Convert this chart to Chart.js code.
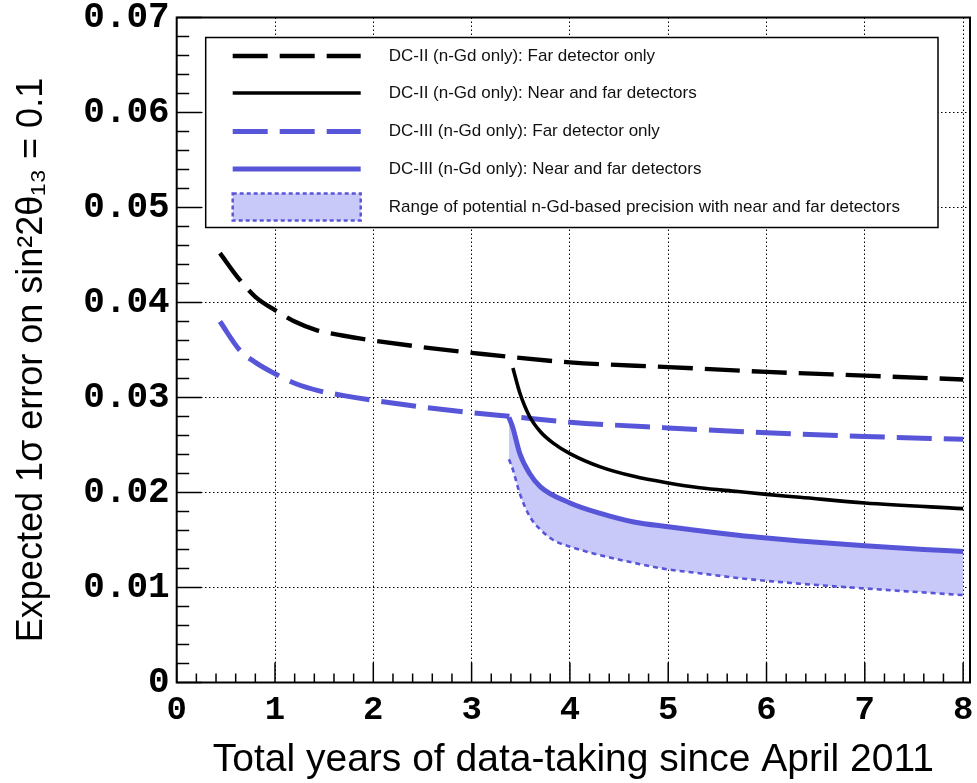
<!DOCTYPE html>
<html><head><meta charset="utf-8">
<script src="https://cdn.jsdelivr.net/npm/chart.js@4/dist/chart.umd.min.js"></script>
<style>html,body{margin:0;padding:0;background:#fff;}canvas{display:block;}</style>
</head><body>
<canvas id="c" width="977" height="783"></canvas>
<script>
// ---- tick labels ----
const xTicks = [0, 1, 2, 3, 4, 5, 6, 7, 8];
const yTicks = [0, 0.01, 0.02, 0.03, 0.04, 0.05, 0.06, 0.07];
const xTitle = 'Total years of data-taking since April 2011';
const yTitle = 'Expected 1\u03c3 error on sin\u00b22\u03b8\u2081\u2083 = 0.1  ';
const legendLabels = [
  'DC-II (n-Gd only): Far detector only',
  'DC-II (n-Gd only): Near and far detectors',
  'DC-III (n-Gd only): Far detector only',
  'DC-III (n-Gd only): Near and far detectors',
  'Range of potential n-Gd-based precision with near and far detectors'
];

// ---- series ----
const dc2FarYears = [0.44, 0.64, 0.8, 1.0, 1.2, 1.42, 1.7, 2.0, 2.5, 3.0, 4.0, 5.0, 6.0, 7.0, 8.0];
const dc2FarErr   = [0.0452, 0.0424, 0.0406, 0.0392, 0.0380, 0.0371, 0.0365, 0.0360, 0.0353, 0.0347, 0.0337, 0.0332, 0.0327, 0.0323, 0.0319];

const dc2BothYears = [3.42, 3.49, 3.59, 3.70, 3.83, 4.0, 4.31, 4.65, 5.0, 5.32, 5.71, 6.0, 6.34, 7.0, 8.0];
const dc2BothErr   = [0.0331, 0.0305, 0.0280, 0.0264, 0.0252, 0.0241, 0.0227, 0.0217, 0.0210, 0.0205, 0.0201, 0.0198, 0.0195, 0.0189, 0.0183];

const dc3FarYears = [0.44, 0.64, 0.8, 1.0, 1.2, 1.45, 1.7, 2.0, 2.5, 3.0, 3.4, 4.0, 5.0, 6.0, 7.0, 8.0];
const dc3FarErr   = [0.0380, 0.0350, 0.0337, 0.0325, 0.0315, 0.0307, 0.0302, 0.0297, 0.0290, 0.0284, 0.0280, 0.0274, 0.0268, 0.0263, 0.0259, 0.0256];

const dc3BothYears = [3.38, 3.42, 3.49, 3.59, 3.70, 4.0, 4.31, 4.65, 5.0, 5.71, 6.0, 6.34, 7.0, 7.6, 8.0];
const dc3BothErr   = [0.0279, 0.0268, 0.0241, 0.0220, 0.0206, 0.0189, 0.0178, 0.0169, 0.0164, 0.0155, 0.0152, 0.0149, 0.0144, 0.0140, 0.0138];

const bandLowYears = [3.38, 3.42, 3.49, 3.59, 3.70, 3.83, 4.0, 4.31, 4.65, 5.0, 5.32, 5.71, 6.0, 6.34, 7.0, 8.0];
const bandLowErr   = [0.0235, 0.0224, 0.0199, 0.0175, 0.0161, 0.0150, 0.0143, 0.0134, 0.0126, 0.0119, 0.0115, 0.0110, 0.0107, 0.0104, 0.0099, 0.0092];

const pts = (xs, ys) => xs.map((x, i) => ({x: x, y: ys[i]}));

const BLACK = '#000000';
const BLUE = '#5856d8';
const BAND = '#c9c9f9';

const base = {pointRadius: 0, pointHoverRadius: 0, cubicInterpolationMode: 'monotone', borderCapStyle: 'butt', fill: false};

const datasets = [
  Object.assign({}, base, {label: legendLabels[1], data: pts(dc2BothYears, dc2BothErr), borderColor: BLACK, borderWidth: 3.6}),
  Object.assign({}, base, {label: legendLabels[0], data: pts(dc2FarYears, dc2FarErr), borderColor: BLACK, borderWidth: 4.4, borderDash: [35, 12]}),
  Object.assign({}, base, {label: legendLabels[2], data: pts(dc3FarYears, dc3FarErr), borderColor: BLUE, borderWidth: 5, borderDash: [35, 12]}),
  Object.assign({}, base, {label: 'band-low', data: pts(bandLowYears, bandLowErr), borderColor: BLUE, borderWidth: 2.6, borderDash: [5, 4]}),
  Object.assign({}, base, {label: legendLabels[3], data: pts(dc3BothYears, dc3BothErr), borderColor: BLUE, borderWidth: 5, backgroundColor: BAND, fill: '-1'})
];

const legendPlugin = {
  id: 'boxLegend',
  afterDatasetsDraw(chart) {
    const ctx = chart.ctx, ca = chart.chartArea;
    const L = ca.left + 29, T = ca.top + 20, R = ca.right - 32, B = T + 190;
    ctx.save();
    ctx.fillStyle = '#fff';
    ctx.fillRect(L, T, R - L, B - T);
    ctx.strokeStyle = '#000';
    ctx.lineWidth = 1.5;
    ctx.strokeRect(L, T, R - L, B - T);
    const rows = [18.5, 55.5, 94, 131.5, 169.5];
    const order = [datasets[1], datasets[0], datasets[2], datasets[4]];
    const x1 = L + 27, x2 = L + 155, tx = L + 183;
    ctx.font = '17px "Liberation Sans", Arial, sans-serif';
    ctx.textBaseline = 'middle';
    ctx.textAlign = 'left';
    for (let i = 0; i < 5; i++) {
      const y = T + rows[i];
      if (i < 4) {
        const d = order[i];
        ctx.save();
        ctx.strokeStyle = d.borderColor;
        ctx.lineWidth = d.borderWidth;
        ctx.setLineDash(d.borderDash || []);
        ctx.beginPath(); ctx.moveTo(x1, y); ctx.lineTo(x2, y); ctx.stroke();
        ctx.restore();
      } else {
        ctx.save();
        ctx.fillStyle = BAND;
        ctx.fillRect(x1, y - 13.5, x2 - x1, 27);
        ctx.strokeStyle = BLUE;
        ctx.lineWidth = 2.5;
        ctx.setLineDash([4, 3]);
        ctx.strokeRect(x1, y - 13.5, x2 - x1, 27);
        ctx.restore();
      }
      ctx.fillStyle = '#111';
      ctx.fillText(legendLabels[i], tx, y);
    }
    ctx.restore();
  }
};

const framePlugin = {
  id: 'frameTicks',
  afterDraw(chart) {
    const ctx = chart.ctx, ca = chart.chartArea;
    const xs = chart.scales.x, ys = chart.scales.y;
    ctx.save();
    ctx.strokeStyle = '#000';
    ctx.lineWidth = 1.5;
    for (let i = 0; i <= 35; i++) {
      const py = ys.getPixelForValue(i * 0.002);
      const len = (i % 5 === 0) ? 25 : 12.5;
      ctx.beginPath(); ctx.moveTo(ca.left, py); ctx.lineTo(ca.left + len, py); ctx.stroke();
    }
    for (let i = 0; i <= 40; i++) {
      const px = xs.getPixelForValue(i * 0.2);
      const len = (i % 5 === 0) ? 20 : 9;
      ctx.beginPath(); ctx.moveTo(px, ca.bottom); ctx.lineTo(px, ca.bottom - len); ctx.stroke();
    }
    ctx.lineWidth = 2;
    ctx.strokeRect(ca.left, ca.top, ca.right - ca.left, ca.bottom - ca.top);
    ctx.restore();
  }
};

Chart.defaults.font.family = '"Liberation Sans", Arial, sans-serif';
Chart.defaults.color = '#000';

new Chart(document.getElementById('c'), {
  type: 'line',
  data: {datasets: datasets},
  options: {
    responsive: false,
    animation: false,
    devicePixelRatio: 1,
    layout: {padding: {top: 17.5, right: 7, bottom: 0, left: 0}},
    plugins: {legend: {display: false}, tooltip: {enabled: false}},
    scales: {
      x: {
        type: 'linear', min: 0, max: 8.07,
        afterBuildTicks: s => { s.ticks = xTicks.map(v => ({value: v})); },
        afterFit: s => { s.height = 100.5; },
        ticks: {font: {family: '"Liberation Mono", monospace', weight: 'bold', size: 34, lineHeight: 1.62}, color: '#000', padding: 0, autoSkip: false, maxRotation: 0, callback: v => String(v)},
        grid: {color: '#000', lineWidth: 1, drawTicks: false},
        border: {display: false, dash: [1.5, 2.5]},
        title: {display: true, text: xTitle, color: '#000', font: {family: '"Liberation Sans", Arial, sans-serif', size: 39, lineHeight: 1}, padding: {top: 0, bottom: 3}}
      },
      y: {
        type: 'linear', min: 0, max: 0.07,
        afterBuildTicks: s => { s.ticks = yTicks.map(v => ({value: v})); },
        afterFit: s => { s.width = 176.7; },
        ticks: {font: {family: '"Liberation Mono", monospace', weight: 'bold', size: 36, lineHeight: 0.55}, color: '#000', padding: 7, callback: v => (v === 0 ? '0' : v.toFixed(2))},
        grid: {color: '#000', lineWidth: 1, drawTicks: false},
        border: {display: false, dash: [1.5, 2.5]},
        title: {display: true, text: yTitle, color: '#000', font: {family: '"Liberation Sans", Arial, sans-serif', size: 36, lineHeight: 1}, padding: {top: 14, bottom: 0}}
      }
    }
  },
  plugins: [legendPlugin, framePlugin]
});
</script>
</body></html>
